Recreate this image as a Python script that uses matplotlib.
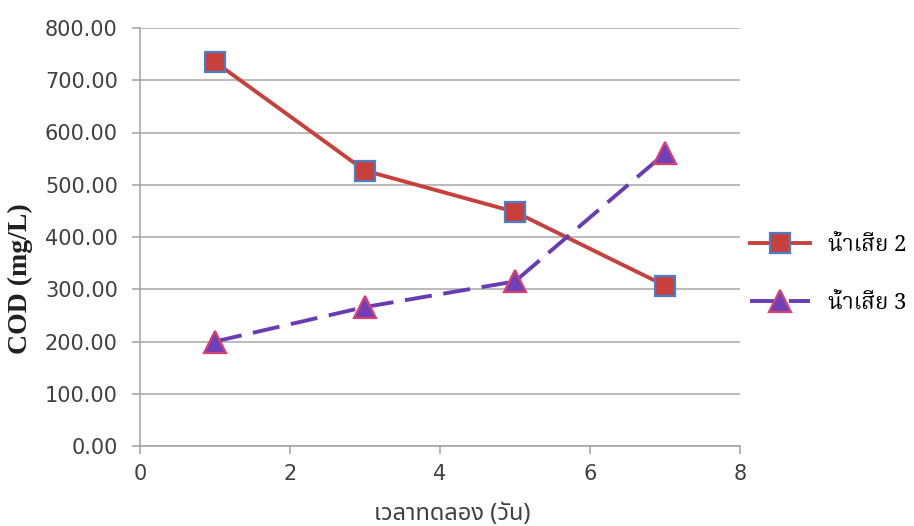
import matplotlib
matplotlib.use("Agg")
import matplotlib.pyplot as plt
from matplotlib.lines import Line2D

# Sampling days and COD readings (mg/L)
days = [1, 3, 5, 7]
cod_ww2 = [735, 527, 448, 307]
cod_ww3 = [200, 266, 315, 560]
series_labels = ["น้ำเสีย 2", "น้ำเสีย 3"]
x_label = "เวลาทดลอง (วัน)"
y_label = "COD (mg/L)"
x_ticks = [0, 2, 4, 6, 8]
y_ticks = [0, 100, 200, 300, 400, 500, 600, 700, 800]

W, H = 914, 526
fig = plt.figure(figsize=(W / 100, H / 100), dpi=100)
ax = fig.add_axes([140 / W, 1 - 446 / H, 600 / W, 418 / H])

red = "#C8403C"
blue_edge = "#4A7EC8"
purple = "#6A3CB4"
purple_face = "#7040B8"
pink_edge = "#D84070"

sq_style = dict(color=red, lw=2.8, marker="s", markersize=15,
                markerfacecolor=red, markeredgecolor=blue_edge,
                markeredgewidth=1.6)
tri_style = dict(color=purple, lw=2.8, marker="^", markersize=16,
                 markerfacecolor=purple_face, markeredgecolor=pink_edge,
                 markeredgewidth=1.6, dashes=[7, 3])

ax.plot(days, cod_ww2, zorder=3, **sq_style)
ax.plot(days, cod_ww3, zorder=3, **tri_style)

ax.set_xlim(0, 8)
ax.set_ylim(0, 800)
ax.set_xticks(x_ticks)
ax.set_yticks(y_ticks)
ax.set_yticklabels([f"{v:.2f}" for v in y_ticks])
ax.yaxis.grid(True, color="#A8A8A8", lw=1.1)
ax.set_axisbelow(True)

for s in ["top", "right"]:
    ax.spines[s].set_visible(False)
for s in ["left", "bottom"]:
    ax.spines[s].set_color("#A0A0A0")
    ax.spines[s].set_linewidth(1.1)

ax.tick_params(axis="both", colors="#A0A0A0", labelcolor="#404040",
               labelsize=15, length=6, width=1.1)
ax.tick_params(axis="x", pad=7)
ax.tick_params(axis="y", pad=10)
for t in ax.get_xticklabels() + ax.get_yticklabels():
    t.set_fontfamily("DejaVu Sans")

ax.set_xlabel(x_label, family=["Noto Sans Thai", "DejaVu Sans"], fontsize=17,
              color="#404040", va="bottom")
ax.xaxis.set_label_coords(0.52, -0.192)
ax.set_ylabel(y_label, family="Liberation Serif", fontweight="bold",
              fontsize=20, color="#202020")
ax.yaxis.set_label_coords(-0.178, 0.40)

handles = [Line2D([], [], **sq_style), Line2D([], [], **tri_style)]
fig.legend(handles, series_labels, loc="center left",
           bbox_to_anchor=(750 / W, 1 - 274 / H), frameon=False,
           prop={"family": ["Noto Serif Thai", "DejaVu Serif"],
                 "weight": "bold", "size": 16},
           handlelength=2.7, handletextpad=0.8, labelspacing=1.6,
           borderpad=0, borderaxespad=0)

fig.savefig("out.png", dpi=100)
